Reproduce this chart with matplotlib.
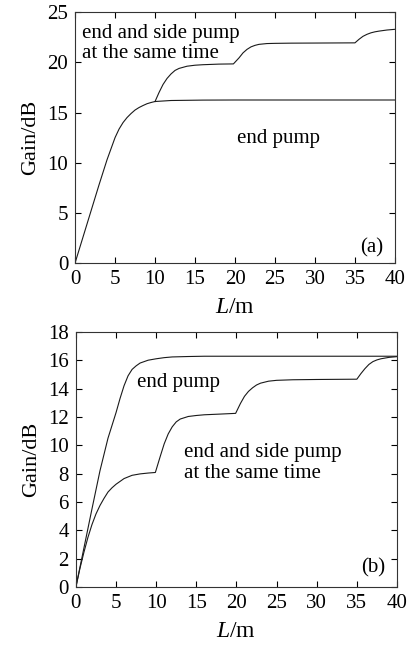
import matplotlib
matplotlib.use('Agg')
import matplotlib.pyplot as plt

plt.rcParams['font.family'] = ['Liberation Serif', 'DejaVu Serif']
plt.rcParams['mathtext.fontset'] = 'custom'
plt.rcParams['mathtext.it'] = 'Liberation Serif:italic'
plt.rcParams['mathtext.rm'] = 'Liberation Serif'

# (a) gain along fibre length
a_end_x = [0, 1, 2, 3, 4, 5, 5.5, 6, 6.5, 7, 7.5, 8, 8.5, 9, 9.5, 10, 11, 12, 14, 16, 20, 30, 40]
a_end_y = [0, 2.6, 5.2, 7.8, 10.3, 12.5, 13.35, 14.0, 14.5, 14.9, 15.25, 15.5, 15.7, 15.88, 16.0, 16.1,
           16.15, 16.2, 16.22, 16.24, 16.25, 16.25, 16.25]

a_both_x = [10, 10.5, 11, 11.5, 12, 12.5, 13, 14, 15, 16, 17, 18, 19.8,
            20.5, 21, 21.5, 22, 22.5, 23, 24, 25, 27, 30, 35,
            35.5, 36, 36.5, 37, 37.5, 38, 39, 40]
a_both_y = [16.1, 17.0, 17.8, 18.4, 18.85, 19.2, 19.4, 19.62, 19.72, 19.77, 19.8, 19.83, 19.85,
            20.45, 20.95, 21.3, 21.55, 21.7, 21.8, 21.88, 21.9, 21.92, 21.93, 21.95,
            22.3, 22.6, 22.8, 22.95, 23.05, 23.12, 23.23, 23.3]

# (b) gain along fibre length
b_end_x = [0, 1, 2, 3, 4, 5, 5.5, 6, 6.5, 7, 7.5, 8, 9, 10, 11, 12, 14, 16, 20, 30, 40]
b_end_y = [0, 2.75, 5.5, 8.2, 10.5, 12.3, 13.3, 14.2, 14.9, 15.35, 15.6, 15.8, 16.0, 16.1,
           16.18, 16.23, 16.26, 16.28, 16.28, 16.28, 16.28]

b_both_x = [0, 0.5, 1, 1.5, 2, 2.5, 3, 3.5, 4, 4.5, 5, 6, 7, 8, 9, 9.9,
            10.5, 11, 11.5, 12, 12.5, 13, 14, 15, 16, 18, 19.9,
            20.5, 21, 21.5, 22, 22.5, 23, 24, 25, 27, 30, 35,
            35.5, 36, 36.5, 37, 37.5, 38, 39, 40]
b_both_y = [0, 1.3, 2.45, 3.5, 4.4, 5.15, 5.75, 6.25, 6.7, 7.0, 7.25, 7.65, 7.88, 7.98, 8.04, 8.08,
            9.2, 10.1, 10.8, 11.3, 11.65, 11.85, 12.03, 12.1, 12.15, 12.2, 12.25,
            12.95, 13.45, 13.8, 14.05, 14.25, 14.38, 14.52, 14.58, 14.62, 14.64, 14.66,
            15.05, 15.4, 15.7, 15.9, 16.02, 16.1, 16.2, 16.25]

xticks = [0, 5, 10, 15, 20, 25, 30, 35, 40]
a_yticks = [0, 5, 10, 15, 20, 25]
b_yticks = [0, 2, 4, 6, 8, 10, 12, 14, 16, 18]

fig = plt.figure(figsize=(4.08, 6.46), dpi=100)
ax1 = fig.add_axes([0.184, 0.593, 0.784, 0.388])
ax2 = fig.add_axes([0.186, 0.0913, 0.787, 0.395])

fs = 15
lc = '#1a1a1a'

ax1.plot(a_end_x, a_end_y, color=lc, lw=0.8)
ax1.plot(a_both_x, a_both_y, color=lc, lw=0.8)
ax1.set_xlim(0, 40)
ax1.set_ylim(0, 25)
ax1.set_yticks(a_yticks)
ax1.text(0.9, 23.85, 'end and side pump\nat the same time', fontsize=fs,
         va='top', ha='left', linespacing=1.1)
ax1.text(20.3, 12.4, 'end pump', fontsize=fs, va='center', ha='left')
ax1.text(38.5, 1.5, '(a)', fontsize=fs, va='center', ha='right')

ax2.plot(b_end_x, b_end_y, color=lc, lw=0.8)
ax2.plot(b_both_x, b_both_y, color=lc, lw=0.8)
ax2.set_xlim(0, 40)
ax2.set_ylim(0, 18)
ax2.set_yticks(b_yticks)
ax2.text(7.6, 14.4, 'end pump', fontsize=fs, va='center', ha='left')
ax2.text(13.5, 10.15, 'end and side pump\nat the same time', fontsize=fs,
         va='top', ha='left', linespacing=1.1)
ax2.text(38.6, 1.35, '(b)', fontsize=fs, va='center', ha='right')

for ax in (ax1, ax2):
    ax.set_xticks(xticks)
    ax.tick_params(direction='in', top=True, right=True, length=4, width=0.8,
                   labelsize=fs, pad=5, colors='black')
    for s in ax.spines.values():
        s.set_linewidth(0.8)
        s.set_color('#333333')
    ax.set_xlabel('$L$/m', fontsize=17, labelpad=6)
    ax.set_ylabel('Gain/dB', fontsize=16, labelpad=5)

fig.savefig('out.png', dpi=100)
